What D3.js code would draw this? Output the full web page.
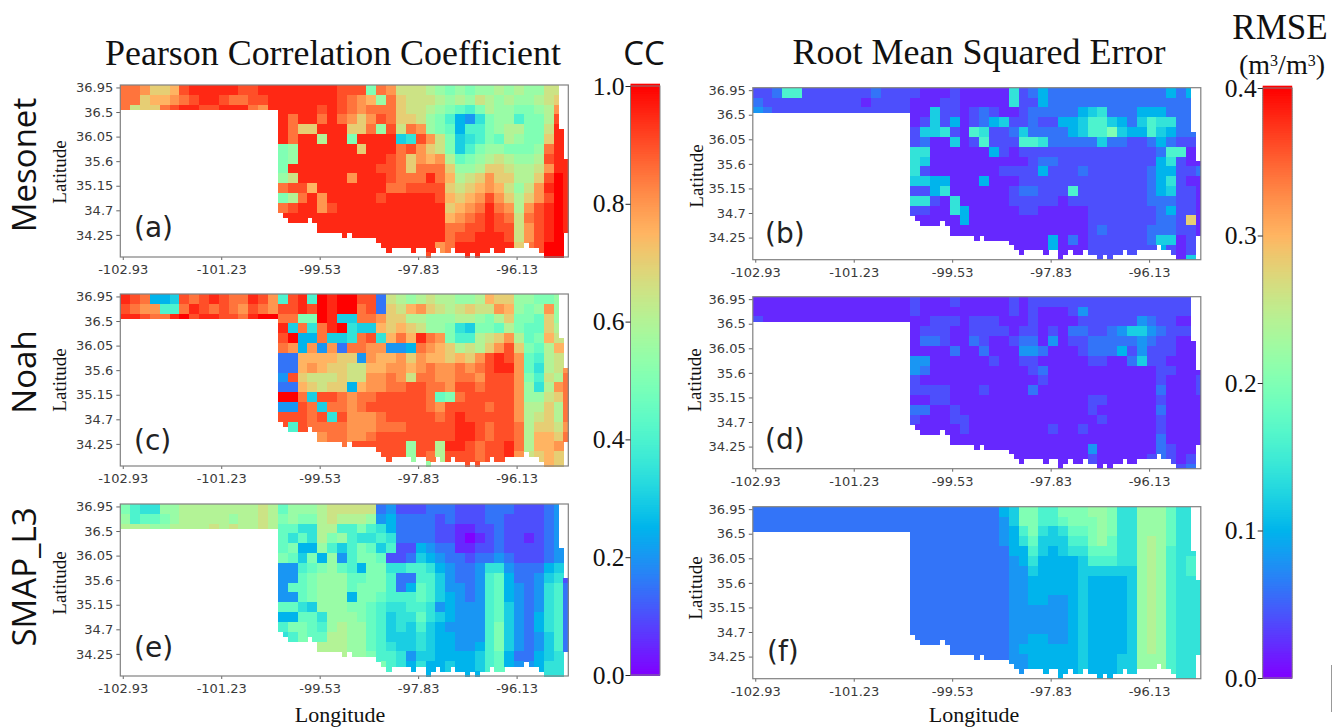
<!DOCTYPE html>
<html>
<head>
<meta charset="utf-8">
<style>
  body { margin: 0; background: #fff; }
  svg { display: block; }
</style>
<script src="https://cdn.jsdelivr.net/npm/d3@7"></script>
</head>
<body>
<script>
// tick labels
const lonLabels = ["-102.93", "-101.23", "-99.53", "-97.83", "-96.13"];
const latLabels = ["36.95", "36.5", "36.05", "35.6", "35.15", "34.7", "34.25"];
const ccTicks = [0, 0.2, 0.4, 0.6, 0.8, 1];
const rmseTicks = [0, 0.1, 0.2, 0.3, 0.4];

// how many fine rows are filled in each of the 91 grid columns (state outline)
const colBottom = [5,5,5,5,5,5,5,5,5,5,5,5,5,5,5,5,5,5,5,5,5,5,5,5,5,5,5,5,5,5,5,5,
  26,27,28,28,28,28,27,28,30,30,30,30,30,31,30,31,31,31,31,31,32,33,34,33,33,33,33,34,33,33,
  35,34,33,34,34,33,34,34,35,34,35,34,34,33,34,34,33,33,33,33,32,33,33,34,35,35,35,35,30];
const colTop = {89: 9, 90: 15};

// values: one character per 2x2 block of the grid, base 36 level
// panhandle = block columns 0-15 (3 rows), body = block columns 16-45 (18 rows)
const mesonetCCPan = ["hhgeefijjjjjiijj", "hheffghijjihhiij", "hdeehijjiijjjhgj"];
const mesonetCCBody = [
  "jjjjjjiiiahgdddcbababbcbcbbdd.",
  "jjjjjjihgfbhedddcbcbdcbcbbcde.",
  "jjjjijihghhheddcba98acbbaabcg.",
  "jhjjhjhgegiheedba8547abb8aaci.",
  "jheejjjeehbidhgba9588abccaadj.",
  "jhjjcjjajjjj67igda678a9cbaaej.",
  "abjjjjjjejjjhigeda68abbaaabhj.",
  "abjjjjjjjjjihegfgc9abcdcbbcijj",
  "ajjjjjjjjjiihehhhebbceedccdgjj",
  "bdjjjjjgjjjihhhjhfcdegeecceikj",
  "hiifjjjjjjjhhiiiiedefgfdbdgjkj",
  "achjgjjjjjijjjjjifefgigecegikj",
  "hijjgijjjjjjjjjjjefghjhgcgijkj",
  "jjjjjjjjjjjjjjjjjfghijihdhijkj",
  "....jjjjjjjjjjjjjhhiijiidgijkj",
  "......jjjjjjjjjjjhiijjjidgijkj",
  "..........jjjjjjghjjjjjjehikk.",
  "...............ihijjjjjjghjkk."
];
const noahCCPan = ["jih556ihijihhjig", "ihgg88hjihihgihg", "jjihhjkijjiihjkk"];
const noahCCBody = [
  "8ij8kjkkii3dcbcdccbbcfeebbaab.",
  "iijikjkkhi3edfgedcdeddgfbabgb.",
  "hhaakj66hhgeeccbbbccbaceaa9eb.",
  "j6h7hjk766fefedbba76aa9ca99ec.",
  "ik55h667hi7fhfjhga88cdegc9afd.",
  "hg5g4g3hhgg445hgfecdcegiea9cf.",
  "33ffffee4gffgegffefegijig98cd.",
  "33fgfeeddffggfghgghghijjg97cdg",
  "4iedddeddgghgdhhgghhgiiiga8dch",
  "33fedee5fgghhiihhgiihiiigb7cgh",
  "kkh6iihghhiiiiih9ahiiiiigbbdeh",
  "44ih6hhghiiiiiihgiiiihiigccech",
  "iiihi7iggghiiiiihijiiiiigcdech",
  "i8ihhhhggghhhiiiiijjihiihceedg",
  "....ghhgghiiiiiiiijjihiihcffeh",
  "......hiiiiiibiicjjihiijhcffg.",
  "..........iiibihciiihiijgdefe.",
  "...............biiiiiiiihdefe."
];
const smapCCPan = ["a877bbccccccccdc", "b899abcccccbccdc", "cccbbccccdcdccdc"];
const smapCCBody = [
  "9bbbcddddd3422233322233322234.",
  "abaacdcccb4533332322233222234.",
  "9977cc88a87533332211223222234.",
  "9797cab8778733332210123221234.",
  "9a55b868a96822543311223222234.",
  "a96a5b48aa9223654332334322234.",
  "4489ab985aa778875433477433356.",
  "449abbb99aa8338864334895334672",
  "499abbb9aaa8359864434895434783",
  "449abbb5aa98889865434895434783",
  "9976bbbaa987788745444896434783",
  "55997bbba986779765444896435783",
  "8aa98bcbb9867686544448a6435783",
  "78a99ccbb9866676554448a6434683",
  "....cccbb9876676554458a6434683",
  "......cbba8874665555689533567.",
  "..........a875755655689544577.",
  "...............55655589544577."
];
const mesonetRmsePan = ["2238822222223222", "3222222222212222", "4322222222222222"];
const mesonetRmseBody = [
  "21112111117235333333333333535.",
  "11122111117225333333333333333.",
  "11622123211233333567333555333.",
  "12625123562232255688653687733.",
  "26672187223633335688a65586533.",
  "23116128222887333336332235322.",
  "77111111521222222222222223881.",
  "761111111111233222222222257211",
  "721111111222252223222222355223",
  "665511151112222222222222357211",
  "225711111123322282222222356221",
  "772171111122222122222222333221",
  "221175111112211111222222235221",
  "1111151111111111112222222332e1",
  "....11111111111111232222333221",
  "......11111111513122222236612.",
  "..........1111511122222225212.",
  "...............11122222222216."
];
const noahRmsePan = ["1111111111111111", "1111111111111111", "2111111111111111"];
const noahRmseBody = [
  "21112111112122222222222222222.",
  "21111111112121112422222222222.",
  "11222122211121111222222432211.",
  "12221122221221213322346643222.",
  "13321132112331412233333432211.",
  "11113113111443111233352422211.",
  "44111111211221111122113622111.",
  "431111111111231111111111122111",
  "211111111111121111111111121112",
  "222211121111311111111111131112",
  "112211111111111111221111121111",
  "331121111111111111211111131111",
  "211122111111111111121111121111",
  "111112111111112112111111121111",
  "....11111111111111111111131111",
  "......11111111111141111113211.",
  "..........1111111121111123212.",
  "...............11111111122223."
];
const smapRmsePan = ["3333333333333333", "3333333333333333", "3333333333333333"];
const smapRmseBody = [
  "33333333356aa88aaabba77bbb977.",
  "33333333346aa889aaaba77bbb977.",
  "333333333458a76799aba77bbb977.",
  "333333333457966688ab977bcb977.",
  "33333333335586567799977bcb877.",
  "33333333334575555688877bcb878.",
  "33333333334465555666666bcb878.",
  "33333333334455555655556bcb8777",
  "33333333334455555655556bcb8777",
  "33333333334455445655556bcb8777",
  "33333333334444445655556bcb8777",
  "33333333334444445655556bcb8777",
  "33333333334444445655556bcb8777",
  "33333333334455445655556bcb8777",
  "....3333334555555655556bcb8777",
  "......33334455555655566bbb877.",
  "..........4455555655566bbb877.",
  "...............55655566bbb877."
];

// matplotlib "rainbow"
const rainbow = t => d3.rgb(
  255 * Math.min(1, Math.abs(2 * t - 0.5)),
  255 * Math.sin(Math.PI * t),
  255 * Math.cos(Math.PI * t / 2)
).formatHex();

const ccColor = d3.scaleSequential(rainbow).domain([0, 1]);
const rmseColor = d3.scaleSequential(rainbow).domain([0, 0.4]);

const svg = d3.select("body").append("svg").attr("width", 1333).attr("height", 727);
const serif = "'Liberation Serif', serif";
const sans = "'DejaVu Sans', sans-serif";
const side = "'Open Sans', sans-serif";

const plotW = 448, plotH = 172;
const cols = d3.range(91), rows = d3.range(35);
const x = d3.scaleLinear().domain([0, 91]).range([0, plotW]);
const y = d3.scaleLinear().domain([0, 35]).range([0, plotH]);

const drawPanel = (left, top, pan, body, unit, color, tag, tagX, tagY, latX, latY) => {
  const g = svg.append("g").attr("transform", `translate(${left},${top})`);
  const cells = [];
  cols.forEach(c => rows.forEach(r => {
    if (r >= colBottom[c] || r < (colTop[c] || 0)) return;
    const bc = c >> 1, br = r >> 1;
    const ch = bc < 16 ? (pan[br] || "")[bc] : (body[br] || "")[bc - 16];
    if (!ch || ch === ".") return;
    cells.push({c, r, v: parseInt(ch, 36) * unit});
  }));
  g.append("g").style("filter", "blur(0.7px)")
    .selectAll("rect").data(cells).join("rect")
    .attr("x", d => x(d.c))
    .attr("y", d => y(d.r))
    .attr("width", x(1) + 0.5)
    .attr("height", y(1) + 0.5)
    .attr("shape-rendering", "crispEdges")
    .attr("fill", d => color(d.v));

  const xAxis = d3.axisBottom(x)
    .tickValues(lonLabels.map((d, i) => 0.5 + 20 * i))
    .tickFormat((d, i) => lonLabels[i])
    .tickSize(3).tickPadding(5);
  const yAxis = d3.axisLeft(y)
    .tickValues(latLabels.map((d, i) => 0.5 + 5 * i))
    .tickFormat((d, i) => latLabels[i])
    .tickSize(4).tickPadding(3);
  const gx = g.append("g").attr("transform", `translate(0,${plotH})`).call(xAxis);
  const gy = g.append("g").call(yAxis);
  [gx, gy].forEach(a => {
    a.select(".domain").remove();
    a.selectAll("line").attr("stroke", "#666");
    a.selectAll("text").attr("fill", "#3a3a3a")
      .attr("font-family", sans).attr("font-size", 13);
  });
  g.append("rect").attr("width", plotW).attr("height", plotH)
    .attr("fill", "none").attr("stroke", "#808080").attr("stroke-width", 1.2);

  svg.append("text").text(tag).attr("x", tagX).attr("y", tagY)
    .attr("font-family", sans).attr("font-size", 28).attr("fill", "#222");
  svg.append("text").text("Latitude")
    .attr("transform", `translate(${latX},${latY}) rotate(-90)`)
    .attr("text-anchor", "middle").attr("font-family", serif).attr("font-size", 19).attr("fill", "#111");
};

drawPanel(120.3, 85, mesonetCCPan, mesonetCCBody, 0.05, ccColor, "(a)", 134, 237, 66, 172);
drawPanel(120.3, 294, noahCCPan, noahCCBody, 0.05, ccColor, "(c)", 134, 450, 66, 380);
drawPanel(120.3, 504, smapCCPan, smapCCBody, 0.05, ccColor, "(e)", 134, 657, 66, 583);
drawPanel(752.8, 87.7, mesonetRmsePan, mesonetRmseBody, 0.02, rmseColor, "(b)", 765, 243, 703, 176);
drawPanel(752.8, 296.7, noahRmsePan, noahRmseBody, 0.02, rmseColor, "(d)", 765, 449, 701, 380);
drawPanel(752.8, 506.7, smapRmsePan, smapRmseBody, 0.02, rmseColor, "(f)", 767, 661, 702, 588);

const drawBar = (left, domain, ticks, color, fmt, top, bottom) => {
  const w = 29.5;
  const s = d3.scaleLinear().domain(domain).range([bottom, top]);
  const steps = d3.range(256).map(i => domain[0] + (domain[1] - domain[0]) * i / 255);
  const g = svg.append("g").attr("transform", `translate(${left},0)`);
  g.selectAll("rect").data(steps).join("rect")
    .attr("x", 0).attr("width", w)
    .attr("y", d => s(d) - (bottom - top) / 255)
    .attr("height", (bottom - top) / 255 + 1)
    .attr("fill", d => color(d));
  g.append("rect").attr("y", top).attr("width", w).attr("height", bottom - top)
    .attr("fill", "none").attr("stroke", "#808080").attr("stroke-width", 1);
  const axis = d3.axisLeft(s).tickValues(ticks).tickFormat(fmt).tickSize(5).tickPadding(1);
  const a = g.append("g").call(axis);
  a.select(".domain").remove();
  a.selectAll("line").attr("stroke", "#222");
  a.selectAll("text").attr("fill", "#111").attr("font-family", serif).attr("font-size", 25.5);
};
drawBar(630.5, [0, 1], ccTicks, ccColor, d3.format(".1f"), 86, 675);
drawBar(1262.7, [0, 0.4], rmseTicks, rmseColor, d3.format(".1f"), 88, 678);

const label = (t, xp, yp, fam, size, anchor, rot) => svg.append("text").text(t)
  .attr("transform", `translate(${xp},${yp})` + (rot ? " rotate(-90)" : ""))
  .attr("text-anchor", anchor || "start")
  .attr("font-family", fam).attr("font-size", size).attr("fill", "#111");

label("Pearson Correlation Coefficient", 333, 65, serif, 35.9, "middle");
label("Root Mean Squared Error", 979, 64, serif, 36, "middle");
label("CC", 644, 65, side, 33, "middle");
label("RMSE", 1280, 39, serif, 35, "middle");

const unit = svg.append("text").attr("x", 1282).attr("y", 74)
  .attr("text-anchor", "middle").attr("font-family", serif).attr("font-size", 28).attr("fill", "#111");
[["(m", 0], ["3", -8], ["/m", 8], ["3", -8], [")", 8]].forEach(([t, dy]) => {
  unit.append("tspan").text(t).attr("dy", dy).attr("font-size", dy < 0 ? 16 : 28);
});

label("Mesonet", 36, 165, side, 33, "middle", true);
label("Noah", 36, 372, side, 33, "middle", true);
label("SMAP_L3", 36, 577, side, 33, "middle", true);
label("Longitude", 340, 722, serif, 22, "middle");
label("Longitude", 974, 722, serif, 22, "middle");

svg.append("line").attr("x1", 1331.5).attr("x2", 1331.5).attr("y1", 665).attr("y2", 712)
  .attr("stroke", "#999");
</script>
</body>
</html>
